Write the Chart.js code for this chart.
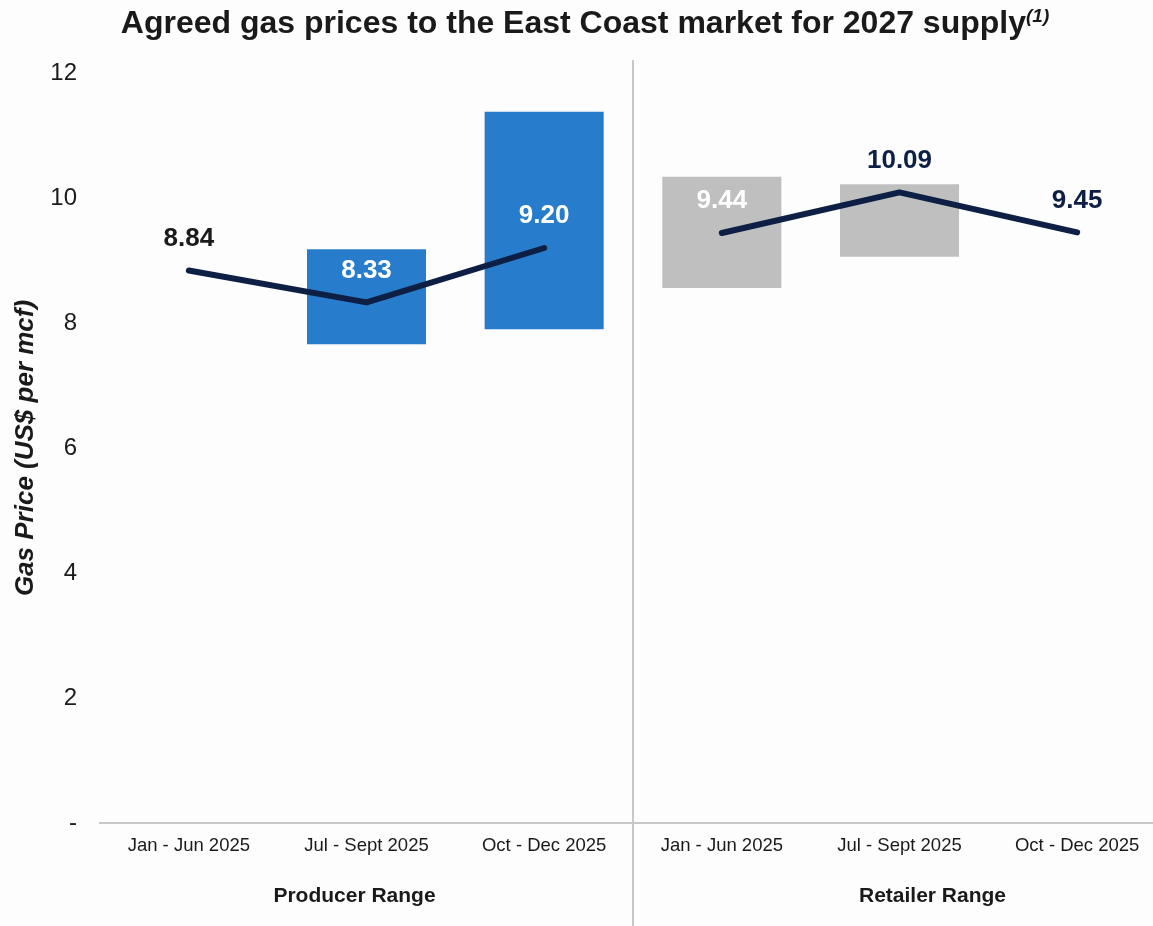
<!DOCTYPE html>
<html>
<head>
<meta charset="utf-8">
<script src="https://cdn.jsdelivr.net/npm/chart.js@4.4.1/dist/chart.umd.min.js"></script>
<style>
  html, body { margin: 0; padding: 0; background: #fdfdfd; overflow: hidden; }
  #wrap { position: relative; width: 1153px; height: 926px; overflow: hidden; }
  #title {
    position: absolute; top: 4px; left: 0; width: 1170px; text-align: center;
    font: bold 32px "Liberation Sans", Arial, sans-serif; color: #1a1a1a; white-space: nowrap;
  }
  #title sup { font-size: 19px; font-style: italic; vertical-align: 11px; line-height: 0; }
  #box { position: absolute; left: 0; top: 0; width: 1166px; height: 926px; }
</style>
</head>
<body>
<div id="wrap">
  <div id="box"><canvas id="chart"></canvas></div>
  <div id="title">Agreed gas prices to the East Coast market for 2027 supply<sup>(1)</sup></div>
</div>
<script>
const categories = ['Jan - Jun 2025', 'Jul - Sept 2025', 'Oct - Dec 2025', 'Jan - Jun 2025', 'Jul - Sept 2025', 'Oct - Dec 2025'];
const groups = ['Producer Range', 'Retailer Range'];
// low / high of each agreed price range (null where no range shown)
const rangeLow = [null, 7.66, 7.90, 8.56, 9.06, null];
const rangeHigh = [null, 9.18, 11.38, 10.34, 10.22, null];
// average agreed price
const producerAvg = [8.84, 8.33, 9.20, null, null, null];
const retailerAvg = [null, null, null, 9.44, 10.09, 9.45];
const yTicks = [0, 2, 4, 6, 8, 10, 12];

const BLUE = '#277dcb';
const GREY = '#bfbfbf';
const NAVY = '#0d1f45';
const FONT = '"Liberation Sans", Arial, sans-serif';
const labelColors = ['#1a1a1a', '#ffffff', '#ffffff', '#ffffff', NAVY, NAVY];
const barColors = [BLUE, BLUE, BLUE, GREY, GREY, GREY];

const ranges = rangeLow.map((lo, i) => lo === null ? null : [lo, rangeHigh[i]]);

const overlay = {
  id: 'overlay',
  afterDatasetsDraw(chart) {
    const { ctx, scales } = chart;
    const x = scales.x, y = scales.y;
    ctx.save();
    // divider between producer and retailer
    const mid = (x.getPixelForValue(2) + x.getPixelForValue(3)) / 2;
    ctx.strokeStyle = '#c8c8c8';
    ctx.lineWidth = 2;
    ctx.beginPath();
    ctx.moveTo(mid, 60);
    ctx.lineTo(mid, chart.height);
    ctx.stroke();
    // value labels
    ctx.font = 'bold 26px ' + FONT;
    ctx.textAlign = 'center';
    ctx.textBaseline = 'middle';
    categories.forEach((c, i) => {
      const v = producerAvg[i] !== null ? producerAvg[i] : retailerAvg[i];
      ctx.fillStyle = labelColors[i];
      ctx.fillText(v.toFixed(2), x.getPixelForValue(i), y.getPixelForValue(v) - 32);
    });
    // group labels
    ctx.font = 'bold 21px ' + FONT;
    ctx.fillStyle = '#1a1a1a';
    ctx.fillText(groups[0], x.getPixelForValue(1) - 12, 896);
    ctx.fillText(groups[1], x.getPixelForValue(4) + 33, 896);
    ctx.restore();
  }
};

const lineStyle = {
  type: 'line',
  borderColor: NAVY,
  borderWidth: 6,
  pointRadius: 0,
  borderCapStyle: 'round',
  borderJoinStyle: 'round',
  tension: 0,
  order: 0
};

new Chart(document.getElementById('chart'), {
  data: {
    labels: categories,
    datasets: [
      Object.assign({ data: producerAvg }, lineStyle),
      Object.assign({ data: retailerAvg }, lineStyle),
      {
        type: 'bar',
        data: ranges,
        backgroundColor: barColors,
        borderWidth: 0,
        categoryPercentage: 0.67,
        barPercentage: 1,
        order: 1
      }
    ]
  },
  options: {
    responsive: true,
    maintainAspectRatio: false,
    animation: false,
    layout: { padding: { top: 73, right: 0, left: 0, bottom: 0 } },
    plugins: {
      legend: { display: false },
      tooltip: { enabled: false }
    },
    scales: {
      x: {
        grid: { display: false, drawTicks: false },
        border: { display: true, color: '#c8c8c8', width: 2 },
        ticks: { color: '#1a1a1a', font: { family: FONT, size: 18.5 }, padding: 12, maxRotation: 0 },
        afterFit(s) { s.height = 103; }
      },
      y: {
        min: 0,
        max: 12,
        afterBuildTicks(s) { s.ticks = yTicks.map(v => ({ value: v })); },
        grid: { display: false, drawTicks: false },
        border: { display: false },
        ticks: {
          color: '#1a1a1a',
          font: { family: FONT, size: 24 },
          padding: 23,
          callback: v => v === 0 ? '-' : v
        },
        title: {
          display: true,
          text: 'Gas Price (US$ per mcf)',
          color: '#1a1a1a',
          font: { family: FONT, size: 26, weight: 'bold', style: 'italic' },
          padding: { top: 10, bottom: 0 }
        },
        afterFit(s) { s.width = 100; }
      }
    }
  },
  plugins: [overlay]
});
</script>
</body>
</html>
